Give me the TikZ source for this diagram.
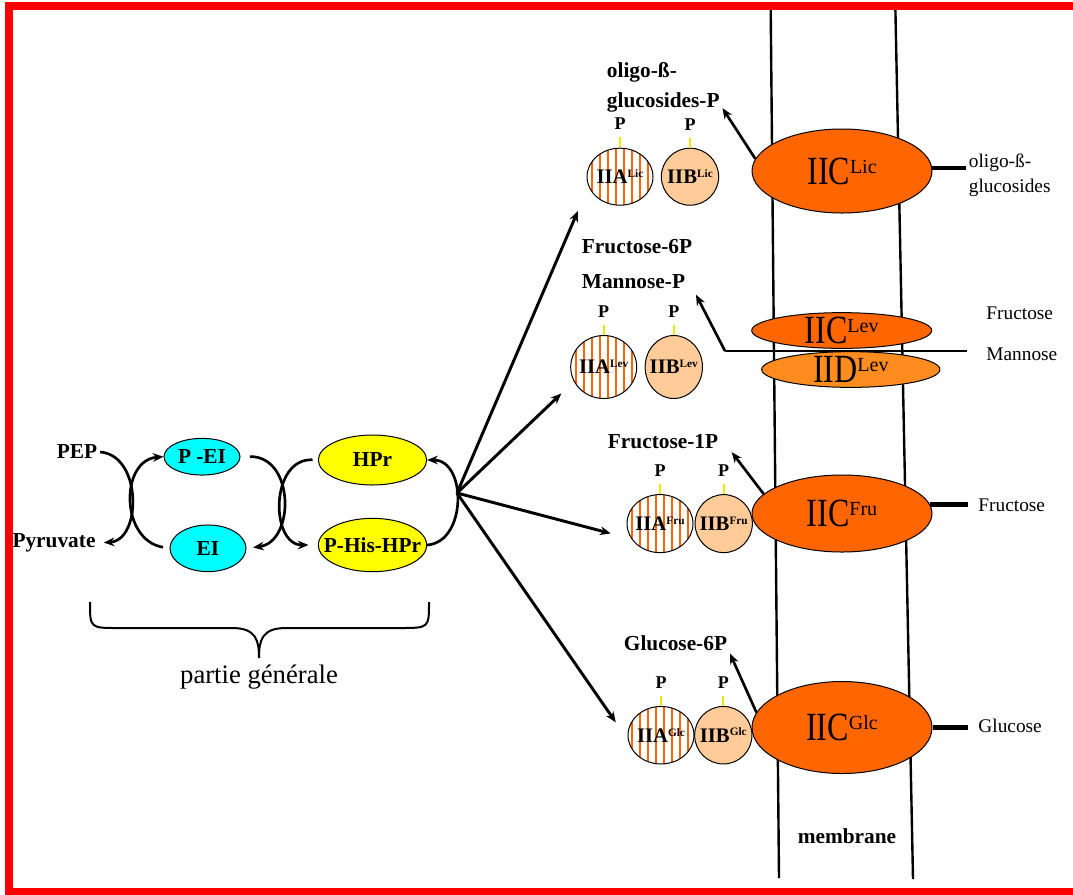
\documentclass[tikz,border=0pt]{standalone}
\usepackage{fontspec}
\setmainfont{Liberation Serif}
\newfontfamily\narrowserif[FakeStretch=0.8]{Liberation Serif}
\usetikzlibrary{shapes.geometric,patterns.meta,arrows.meta,positioning}

\definecolor{eicyan}{RGB}{0,255,255}
\definecolor{hpryellow}{RGB}{255,255,0}
\definecolor{iicorange}{RGB}{255,102,0}
\definecolor{iidorange}{RGB}{255,140,30}
\definecolor{iibpeach}{RGB}{255,204,153}
\definecolor{tickyellow}{RGB}{235,235,0}
\definecolor{framered}{RGB}{255,0,0}

\newcommand{\supA}[1]{\raisebox{4.7pt}{\fontsize{8.5}{9}\selectfont #1}}
\newcommand{\supC}[1]{\raisebox{8pt}{\rmfamily\fontsize{15}{15}\selectfont #1}}

\begin{document}
\begin{tikzpicture}[x=0.75pt,y=-0.75pt,>={Stealth[length=8pt,width=6.5pt]}]
    \tikzstyle{lbl}=[font=\bfseries\fontsize{16}{22.5}\selectfont, inner sep=2pt]
    \tikzstyle{plbl}=[font=\bfseries\fontsize{13.5}{16}\selectfont, inner sep=1pt]
    \tikzstyle{sugar}=[font=\fontsize{14.5}{18.75}\selectfont, inner sep=2pt, align=left]
    \tikzstyle{enzyme}=[ellipse, draw, line width=0.75pt, inner sep=0pt]
    \tikzstyle{domlbl}=[font=\bfseries\fontsize{15.5}{18}\selectfont, inner sep=0pt]
    \tikzstyle{iiclbl}=[font=\narrowserif\fontsize{30}{30}\selectfont, inner sep=0pt]
    \tikzstyle{domA}=[enzyme, minimum width=49.5pt,
        pattern={Lines[angle=90,distance=6pt,line width=1.5pt]}, pattern color=iicorange]
    \tikzstyle{domB}=[enzyme, minimum width=43pt, fill=iibpeach]
    \tikzstyle{iic}=[enzyme, fill=iicorange, minimum width=135pt]
    \tikzstyle{recycle}=[->, line width=2pt]
    \tikzstyle{branch}=[->, line width=2.2pt]
    \tikzstyle{product}=[->, line width=2pt]
    \tikzstyle{stalk}=[line width=3.5pt]
    \tikzstyle{ptick}=[draw=tickyellow, line width=1.5pt]

    \useasboundingbox (0,0) rectangle (1073,894);

    % Frame and membrane
    \draw[framered, line width=6pt] (9,5.5) rectangle (1085,892);
    \draw[line width=1.8pt] (770.7,10) -- (779,878);
    \draw[line width=1.8pt] (895.4,10) -- (913,879);

    % Draw the general part (EI and HPr)
    \node[lbl] (PEP) at (77,452) {PEP};
    \node[lbl] (Pyr) at (54,543) {Pyruvate};
    \node[enzyme, fill=eicyan, minimum width=57pt, minimum height=27.5pt,
        label={[lbl]center:P -EI}] (PEI) at (202,456.7) {};
    \node[enzyme, fill=eicyan, minimum width=57pt, minimum height=35pt,
        label={[lbl]center:EI}] (EI) at (208,548.3) {};
    \node[enzyme, fill=hpryellow, minimum width=81.25pt, minimum height=37.5pt,
        label={[lbl]center:HPr}] (HPr) at (372.5,460) {};
    \node[enzyme, fill=hpryellow, minimum width=81.25pt, minimum height=40pt,
        label={[lbl]center:P-His-HPr}] (PHPr) at (372.5,545) {};

    % Phosphate transfer cycles
    \draw[recycle, shorten >=4pt] (PEP.east) .. controls (142,455) and (142,540) .. (Pyr.east);
    \draw[recycle, shorten <=5pt] (EI.west) .. controls (120,540) and (120,460) .. (PEI.west);
    \draw[recycle, shorten <=7pt, shorten >=5pt] (PEI.east) .. controls (295,456) and (295,542) .. (EI.east);
    \draw[recycle, shorten <=4pt, shorten >=7pt] (HPr.west) .. controls (270,458) and (270,545) .. (PHPr.west);
    \draw[recycle] (PHPr.east) .. controls (467,542) and (467,460) .. (HPr.east);
    \coordinate (hub) at (457,493);

    % Annotate the general part
    \draw[line width=1.5pt] (90,602) .. controls (90,628) .. (118,628) -- (232,628)
        .. controls (256,628) and (259,640) .. (259,658)
        .. controls (259,640) and (262,628) .. (286,628) -- (400,628)
        .. controls (429,628) .. (429,602);
    \node[font=\fontsize{20}{24}\selectfont] (partie) at (259,677) {partie générale};

    % Products and sugars
    \node[lbl, anchor=west, align=left] (LicP) at (604,87) {oligo-ß-\\glucosides-P};
    \node[lbl, anchor=west] (Fru6P) at (579,247) {Fructose-6P};
    \node[lbl, anchor=west] (ManP) at (579,282) {Mannose-P};
    \node[lbl, anchor=west] (Fru1P) at (605,442) {Fructose-1P};
    \node[lbl, anchor=west] (Glc6P) at (621,643) {Glucose-6P};
    \node[sugar, anchor=west] (LicS) at (966,175) {oligo-ß-\\glucosides};
    \node[sugar, anchor=west] (LevF) at (983.5,313) {Fructose};
    \node[sugar, anchor=west] (LevM) at (983.5,354) {Mannose};
    \node[sugar, anchor=west] (FruS) at (975.5,505) {Fructose};
    \node[sugar, anchor=west] (GlcS) at (975.5,726) {Glucose};
    \node[lbl] (memb) at (847,836) {membrane};

    % Mannose path goes under the IIC/IID pair
    \coordinate (lev-in) at (967,351);
    \coordinate (lev-bend) at (725,351);
    \draw[line width=1.5pt] (lev-in) -- (lev-bend);
    \draw[product] (lev-bend) -- ([xshift=6pt,yshift=-2pt]ManP.south east);

    % Draw the IIA and IIB domains with their phosphates
    \foreach \sys/\ax/\bx/\y/\h in {Lic/620/690/176.7/57, Lev/603.7/673.8/367/63,
                                    Fru/660/723.7/523.6/58, Glc/661/723.3/735.2/57.5}
    {
        \node[domA, minimum height=\h*0.75pt, label={[domlbl]center:IIA\supA{\sys}}]
            (IIA-\sys) at (\ax,\y) {};
        \node[domB, minimum height=\h*0.75pt, label={[domlbl]center:IIB\supA{\sys}}]
            (IIB-\sys) at (\bx,\y) {};
        \draw[ptick] (IIA-\sys.north) -- ++(0,-10);
        \draw[ptick] (IIB-\sys.north) -- ++(0,-10);
        \node[plbl, above=12pt of IIA-\sys] (PA-\sys) {P};
        \node[plbl, above=12pt of IIB-\sys] (PB-\sys) {P};
    }

    % Draw the membrane IIC (and IID) domains
    \node[iic, minimum height=63pt, label={[iiclbl]center:IIC\supC{Lic}}] (IIC-Lic) at (842,171) {};
    \node[iic, minimum height=26.8pt, label={[iiclbl]center:IIC\supC{Lev}}] (IIC-Lev) at (841.7,330.5) {};
    \node[enzyme, fill=iidorange, minimum width=133.7pt, minimum height=26.8pt,
        label={[iiclbl]center:IID\supC{Lev}}] (IID-Lev) at (850.8,369.5) {};
    \node[iic, minimum height=57.75pt, label={[iiclbl]center:IIC\supC{Fru}}] (IIC-Fru) at (842,513.5) {};
    \node[iic, minimum height=69pt, label={[iiclbl]center:IIC\supC{Glc}}] (IIC-Glc) at (842,727.5) {};

    % Sugar entry and phosphorylated sugar exit
    \draw[stalk] (IIC-Lic.2) -- (IIC-Lic.2 -| LicS.west);
    \draw[stalk, shorten >=6pt] (IIC-Fru.6) -- (IIC-Fru.6 -| FruS.west);
    \draw[stalk, shorten >=6pt] (IIC-Glc.east) -- (IIC-Glc.east -| GlcS.west);
    \draw[product] (IIC-Lic.172) -- ([yshift=5pt]LicP.south east);
    \draw[product] (IIC-Fru.166) -- ([xshift=8pt]Fru1P.south east);
    \draw[product] (IIC-Glc.170) -- (Glc6P.south east);

    % Connect P-His-HPr with every IIA domain
    \foreach \sys/\ang/\gap in {Lic/198/19.5, Lev/206/13, Fru/208/16, Glc/188/16}
        \draw[branch, shorten >=\gap pt] (hub) -- (IIA-\sys.\ang);
\end{tikzpicture}
\end{document}
